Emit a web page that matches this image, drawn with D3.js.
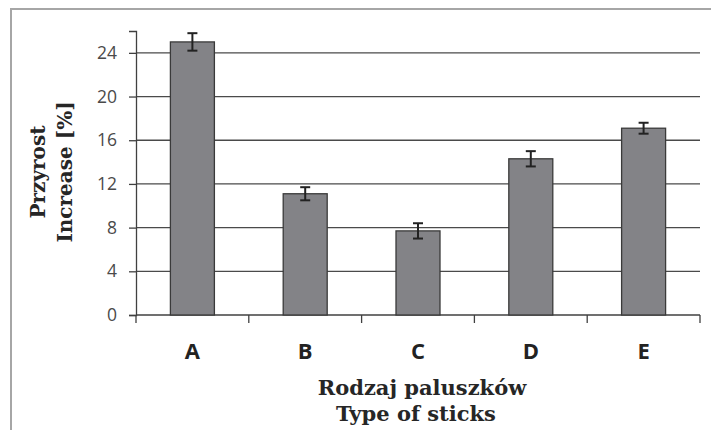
<!DOCTYPE html>
<html>
<head>
<meta charset="utf-8">
<script src="https://cdn.jsdelivr.net/npm/d3@7"></script>
<style>
  body { margin: 0; background: #fff; }
  svg { display: block; }
</style>
</head>
<body>
<script>
// data
const categories = ["A", "B", "C", "D", "E"];
const values = [25.0, 11.1, 7.7, 14.3, 17.1];
const errors = [0.8, 0.6, 0.7, 0.7, 0.5];
const yTicks = [0, 4, 8, 12, 16, 20, 24];

const width = 711, height = 430;
const margin = { top: 31, right: 11, bottom: 115, left: 136 };

const svg = d3.select("body").append("svg")
    .attr("width", width)
    .attr("height", height);

// outer frame (top and left edges visible)
svg.append("path")
    .attr("d", `M11,${height} L11,9 L${width},9`)
    .attr("fill", "none")
    .attr("stroke", "#a6a6a6")
    .attr("stroke-width", 2);

const x = d3.scaleBand()
    .domain(categories)
    .range([margin.left, width - margin.right])
    .paddingInner(0.61)
    .paddingOuter(0.305);

const y = d3.scaleLinear()
    .domain([0, 26])
    .range([height - margin.bottom, margin.top]);

// gridlines
svg.append("g")
    .selectAll("line")
    .data(yTicks.filter(d => d > 0))
    .enter().append("line")
    .attr("x1", margin.left)
    .attr("x2", width - margin.right)
    .attr("y1", d => y(d))
    .attr("y2", d => y(d))
    .attr("stroke", "#4a4a4a")
    .attr("stroke-width", 1.3);

// y axis
const yAxis = svg.append("g")
    .attr("transform", `translate(${margin.left},0)`)
    .call(d3.axisLeft(y).tickValues(yTicks).tickSize(7).tickPadding(12));
yAxis.select(".domain").attr("stroke", "#404040").attr("stroke-width", 1.3);
yAxis.selectAll(".tick line").attr("stroke", "#404040").attr("stroke-width", 1.3);
yAxis.selectAll("text")
    .attr("fill", "#4a4a4a")
    .attr("font-family", "'Open Sans', sans-serif")
    .attr("font-size", 17.5);

// x axis: band-edge ticks like Excel
const edges = categories.map(c => x(c) - x.step() * x.paddingInner() / 2);
edges.push(width - margin.right);
const xAxis = svg.append("g");
xAxis.append("line")
    .attr("x1", margin.left).attr("x2", width - margin.right)
    .attr("y1", y(0)).attr("y2", y(0))
    .attr("stroke", "#404040").attr("stroke-width", 1.3);
xAxis.selectAll(".edge")
    .data(edges)
    .enter().append("line")
    .attr("class", "edge")
    .attr("x1", d => d).attr("x2", d => d)
    .attr("y1", y(0)).attr("y2", y(0) + 8)
    .attr("stroke", "#404040").attr("stroke-width", 1.3);
xAxis.selectAll("text")
    .data(categories)
    .enter().append("text")
    .attr("x", d => x(d) + x.bandwidth() / 2)
    .attr("y", 359)
    .attr("text-anchor", "middle")
    .attr("fill", "#222")
    .attr("font-family", "'Open Sans', sans-serif")
    .attr("font-weight", "bold")
    .attr("font-size", 22)
    .text(d => d);

// bars
svg.append("g")
    .selectAll("rect")
    .data(values)
    .enter().append("rect")
    .attr("x", (d, i) => x(categories[i]))
    .attr("y", d => y(d))
    .attr("width", x.bandwidth())
    .attr("height", d => y(0) - y(d))
    .attr("fill", "#838387")
    .attr("stroke", "#3a3a3a")
    .attr("stroke-width", 1.3);

// error bars
const eb = svg.append("g")
    .attr("stroke", "#222")
    .attr("stroke-width", 2);
values.forEach((v, i) => {
    const cx = x(categories[i]) + x.bandwidth() / 2;
    const hi = y(v + errors[i]), lo = y(v - errors[i]);
    eb.append("line").attr("x1", cx).attr("x2", cx).attr("y1", hi).attr("y2", lo);
    eb.append("line").attr("x1", cx - 5).attr("x2", cx + 5).attr("y1", hi).attr("y2", hi);
    eb.append("line").attr("x1", cx - 5).attr("x2", cx + 5).attr("y1", lo).attr("y2", lo);
});

// axis titles
const titleStyle = (t, size) => t
    .attr("text-anchor", "middle")
    .attr("fill", "#262626")
    .attr("font-family", "'DejaVu Serif', serif")
    .attr("font-weight", "bold")
    .attr("font-size", size);

svg.append("text").call(titleStyle, 21)
    .attr("x", 422).attr("y", 395)
    .text("Rodzaj paluszków");
svg.append("text").call(titleStyle, 21)
    .attr("x", 416).attr("y", 421)
    .text("Type of sticks");

svg.append("text").call(titleStyle, 20)
    .attr("transform", "translate(45,172) rotate(-90)")
    .text("Przyrost");
svg.append("text").call(titleStyle, 20)
    .attr("transform", "translate(72,172) rotate(-90)")
    .text("Increase [%]");
</script>
</body>
</html>
